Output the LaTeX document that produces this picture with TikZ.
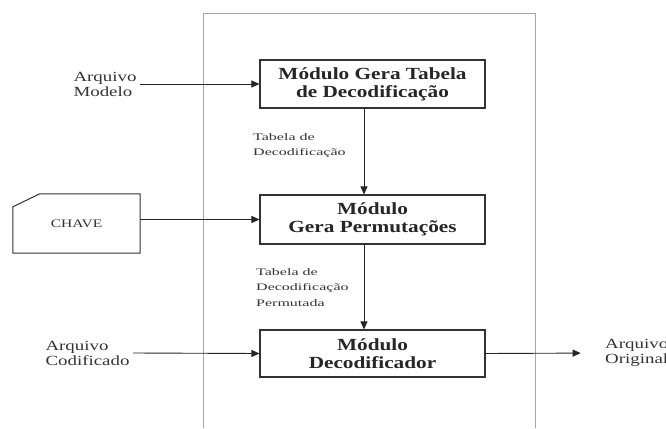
\documentclass[tikz,border=0pt]{standalone}
\usepackage{fontspec}
\setmainfont{Liberation Serif}
\newfontfamily\boxfont[FakeStretch=1.25]{Liberation Serif}
\newfontfamily\sidefont[FakeStretch=1.35]{Liberation Serif}
\newfontfamily\tagfont[FakeStretch=1.6]{Liberation Serif}
\usetikzlibrary{arrows.meta,positioning,calc}

\begin{document}
\begin{tikzpicture}[
    x=1pt, y=-1pt,
    module/.style={rectangle, draw=black!80, line width=1.1pt, minimum width=225pt, minimum height=48pt, align=center, text=black!85, font=\boxfont\bfseries\fontsize{17}{18}\selectfont},
    source/.style={align=left, text=black!80, font=\sidefont\fontsize{14}{15}\selectfont},
    tag/.style={align=left, anchor=west, inner sep=0pt, text=black!80, font=\tagfont\fontsize{10}{15.5}\selectfont},
    keycard/.style={minimum width=127pt, minimum height=59pt, text=black!80, font=\sidefont\fontsize{11.5}{12}\selectfont},
    arrow/.style={-{Triangle[length=8pt,width=7pt]}, line width=0.9pt, black!85}
]
\useasboundingbox (0,0) rectangle (666,428);

% System frame (open at the bottom)
\draw[gray!70, line width=0.8pt] (203,428) -- (203,13) -- (535,13) -- (535,428);

% Modules inside the frame
\node[module] (gera_tabela) at (372.5,84) {Módulo Gera Tabela\\de Decodificação};
\node[module, minimum height=49pt] (gera_perm) at (372.5,219.5) {Módulo\\Gera Permutações};
\node[module, minimum height=47pt] (decod) at (372.5,353.5) {Módulo\\Decodificador};

% Inputs and output
\node[source] (modelo) at (105,84) {Arquivo\\Modelo};
\node[keycard] (chave) at (76.5,223.5) {CHAVE};
\draw[line width=1pt, black!80] ($(chave.north west)+(0,13)$) -- ($(chave.north west)+(27,0)$) -- (chave.north east) -- (chave.south east) -- (chave.south west) -- cycle;
\node[source] (codificado) at (87.5,353) {Arquivo\\Codificado};
\node[source, anchor=west] (original) at (601.7,353) {Arquivo\\Original};

% Flow labels
\node[tag] (tag_tabela) at (253,145.5) {Tabela de\\Decodificação};
\node[tag] (tag_perm) at (256,287.5) {Tabela de\\Decodificação\\Permutada};

% Vertical flow
\coordinate (flow) at (364,0);
\draw[arrow] (gera_tabela.south -| flow) -- (gera_perm.north -| flow);
\draw[arrow] (gera_perm.south -| flow) -- (decod.north -| flow);

% Horizontal arrows
\draw[arrow] (modelo.east) -- (gera_tabela.west);
\draw[arrow] (chave.east |- gera_perm.west) -- (gera_perm.west);
\draw[arrow] (codificado.east) -- (decod.west);
\draw[arrow, shorten >=21pt] (decod.east) -- (original.west);

\end{tikzpicture}
\end{document}
